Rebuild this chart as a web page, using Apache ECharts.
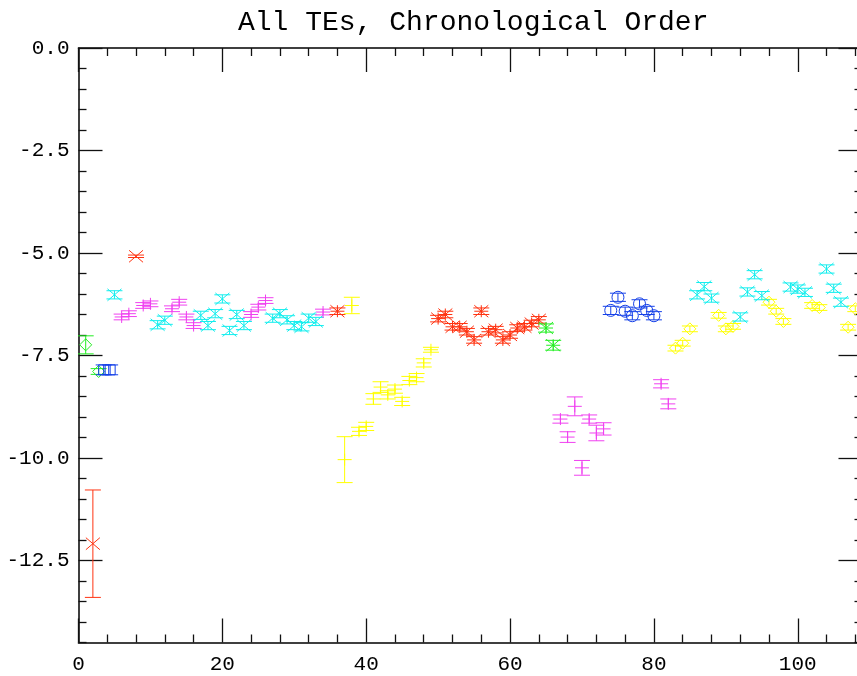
<!DOCTYPE html>
<html>
<head>
<meta charset="utf-8">
<title>All TEs, Chronological Order</title>
<script src="https://cdn.jsdelivr.net/npm/echarts@6/dist/echarts.min.js"></script>
<style>
  html, body { margin: 0; padding: 0; background: #fff; }
  #chart { width: 857px; height: 676px; }
</style>
</head>
<body>
<div id="chart"></div>
<script>
// axis ranges and tick labels
const xRange = [0, 109]
const yRange = [-14.5, 0]
const xTickLabels = [0, 20, 40, 60, 80, 100]
const yTickLabels = [0, -2.5, -5, -7.5, -10, -12.5]

// points: [x, y, error]
const greenDiamond = [[1, -7.24, 0.22], [2.8, -7.89, 0.07]]
const redCross = [[2, -12.09, 1.31], [8, -5.08, 0.03]]
const blueSquare = [[3.5, -7.85, 0.12], [4.4, -7.85, 0.12]]
const cyanCross1 = [
  [5, -6.02, 0.1], [11, -6.75, 0.1], [12, -6.64, 0.1], [17, -6.52, 0.1], [18, -6.77, 0.1],
  [19, -6.48, 0.1], [20, -6.12, 0.1], [21, -6.89, 0.1], [22, -6.5, 0.1], [23, -6.77, 0.1],
  [27, -6.59, 0.1], [28, -6.48, 0.1], [29, -6.63, 0.1], [30, -6.77, 0.1], [31, -6.8, 0.1],
  [32, -6.59, 0.1], [33, -6.67, 0.1]
]
const magentaPlus1 = [
  [6, -6.56, 0.07], [7, -6.48, 0.07], [9, -6.28, 0.07], [10, -6.24, 0.07], [13, -6.36, 0.07],
  [14, -6.2, 0.07], [15, -6.56, 0.07], [16, -6.77, 0.07], [24, -6.5, 0.07], [25, -6.32, 0.07],
  [26, -6.16, 0.07], [34, -6.44, 0.07]
]
const redStar = [
  [36, -6.42, 0.08], [50, -6.6, 0.08], [51, -6.5, 0.08], [52, -6.8, 0.08], [53, -6.8, 0.08],
  [54, -6.92, 0.08], [55, -7.12, 0.08], [56, -6.42, 0.08], [57, -6.92, 0.08], [58, -6.87, 0.08],
  [59, -7.12, 0.08], [60, -7.0, 0.08], [61, -6.83, 0.08], [62, -6.8, 0.08], [63, -6.72, 0.08],
  [64, -6.63, 0.08]
]
const yellowPlus = [
  [37, -10.04, 0.56], [38, -6.28, 0.2], [39, -9.35, 0.1], [40, -9.23, 0.1], [41, -8.56, 0.13],
  [42, -8.27, 0.13], [43, -8.46, 0.1], [44, -8.32, 0.1], [45, -8.62, 0.1], [46, -8.11, 0.1],
  [47, -8.04, 0.1], [48, -7.68, 0.1], [49, -7.36, 0.06]
]
const greenStar = [[65, -6.83, 0.1], [66, -7.25, 0.12]]
const magentaPlus2 = [
  [67, -9.05, 0.1], [68, -9.49, 0.13], [69, -8.74, 0.23], [70, -10.24, 0.18], [71, -9.05, 0.1],
  [72, -9.39, 0.19], [73, -9.29, 0.15], [81, -8.19, 0.1], [82, -8.68, 0.12]
]
const blueCircle = [
  [74, -6.4, 0.1], [75, -6.08, 0.1], [76, -6.42, 0.1], [77, -6.53, 0.1], [78, -6.24, 0.1],
  [79, -6.4, 0.1], [80, -6.53, 0.1]
]
const yellowDiamond = [
  [83, -7.32, 0.07], [84, -7.2, 0.07], [85, -6.85, 0.07], [89, -6.52, 0.07], [90, -6.85, 0.07],
  [91, -6.79, 0.07], [96, -6.2, 0.07], [97, -6.42, 0.07], [98, -6.67, 0.07], [102, -6.28, 0.07],
  [103, -6.33, 0.07], [107, -6.81, 0.07], [108, -6.36, 0.07]
]
const cyanCross2 = [
  [86, -6.02, 0.1], [87, -5.82, 0.1], [88, -6.1, 0.1], [92, -6.56, 0.1], [93, -5.95, 0.1],
  [94, -5.53, 0.1], [95, -6.04, 0.1], [99, -5.83, 0.1], [100, -5.88, 0.1], [101, -5.96, 0.1],
  [104, -5.39, 0.1], [105, -5.86, 0.1], [106, -6.2, 0.1]
]

const GREEN = '#22ee22'
const RED = '#ff3311'
const BLUE = '#1540e8'
const CYAN = '#11eeee'
const MAGENTA = '#f040f0'
const YELLOW = '#ffff00'

const FONT = 'Liberation Mono'

// minor tick positions (skip the majors)
const stepTicks = (min, max, step, skip) => {
  const out = []
  for (let v = min; v <= max + 1e-9; v += step) {
    const r = Math.round(v * 100) / 100
    if (Math.abs(r % skip) > 1e-6) out.push(r)
  }
  return out
}

// symbol outline, plotted at the point
const symbolShapes = (kind, cx, cy, color) => {
  const st = { stroke: color, fill: null, lineWidth: 1 }
  const line = (x1, y1, x2, y2) => ({ type: 'line', shape: { x1, y1, x2, y2 }, style: st })
  const list = []
  if (kind === 'x' || kind === 'star') {
    list.push(line(cx - 7, cy - 6, cx + 7, cy + 6), line(cx - 7, cy + 6, cx + 7, cy - 6))
  }
  if (kind === 'plus' || kind === 'star') {
    list.push(line(cx - 7, cy, cx + 7, cy), line(cx, cy - 6, cx, cy + 6))
  }
  if (kind === 'diamond') {
    list.push({ type: 'polygon', shape: { points: [[cx, cy - 6], [cx + 6, cy], [cx, cy + 6], [cx - 6, cy]] }, style: st })
  }
  if (kind === 'square') {
    list.push({ type: 'rect', shape: { x: cx - 5, y: cy - 5, width: 10, height: 10 }, style: st })
  }
  if (kind === 'circle') {
    list.push({ type: 'circle', shape: { cx, cy, r: 6 }, style: st })
  }
  return list
}

// error bar + symbol for every point
const makeSeries = (data, kind, color) => ({
  type: 'custom',
  clip: true,
  xAxisIndex: 0,
  yAxisIndex: 0,
  data: data,
  encode: { x: 0, y: 1 },
  renderItem: (params, api) => {
    const x = api.value(0)
    const y = api.value(1)
    const e = api.value(2)
    const p = api.coord([x, y])
    const top = api.coord([x, y + e])
    const bot = api.coord([x, y - e])
    const st = { stroke: color, lineWidth: 1 }
    const children = [
      { type: 'line', shape: { x1: p[0], y1: top[1], x2: p[0], y2: bot[1] }, style: st },
      { type: 'line', shape: { x1: p[0] - 8, y1: top[1], x2: p[0] + 8, y2: top[1] }, style: st },
      { type: 'line', shape: { x1: p[0] - 8, y1: bot[1], x2: p[0] + 8, y2: bot[1] }, style: st }
    ].concat(symbolShapes(kind, p[0], p[1], color))
    return { type: 'group', children }
  }
})

const axisLine = { onZero: false, lineStyle: { color: '#333', width: 1.5 } }

const xAxisDef = (gridIndex, position, values, len, showLabel) => ({
  type: 'value',
  gridIndex,
  position,
  min: xRange[0],
  max: xRange[1],
  axisLine: axisLine,
  splitLine: { show: false },
  axisTick: { show: true, inside: true, length: len, customValues: values, lineStyle: { color: '#111', width: 1.3 } },
  axisLabel: showLabel
    ? { customValues: values, margin: 11, fontFamily: FONT, fontSize: 21, color: '#000' }
    : { show: false }
})

const yAxisDef = (gridIndex, position, values, len, showLabel) => ({
  type: 'value',
  gridIndex,
  position,
  min: yRange[0],
  max: yRange[1],
  axisLine: axisLine,
  splitLine: { show: false },
  axisTick: { show: true, inside: true, length: len, customValues: values, lineStyle: { color: '#111', width: 1.3 } },
  axisLabel: showLabel
    ? { customValues: values, margin: 9, fontFamily: FONT, fontSize: 21, color: '#000',
        formatter: v => v.toFixed(1) }
    : { show: false }
})

const xMinor = stepTicks(xRange[0], xRange[1], 4, 20)
const yMinor = stepTicks(yRange[0], yRange[1], 0.5, 2.5)

const gridBox = { left: 78.5, top: 48, width: 784, height: 594.5, outerBoundsMode: 'none' }

const chart = echarts.init(document.getElementById('chart'))
chart.setOption({
  backgroundColor: '#fff',
  animation: false,
  title: {
    text: 'All TEs, Chronological Order',
    left: 233,
    top: 4,
    textStyle: { fontFamily: FONT, fontSize: 28, fontWeight: 'normal', color: '#000' }
  },
  // grid 0: data + major ticks, grid 1: same box, minor ticks only
  grid: [Object.assign({}, gridBox), Object.assign({}, gridBox)],
  xAxis: [
    xAxisDef(0, 'bottom', xTickLabels, 24, true),
    xAxisDef(0, 'top', xTickLabels, 24, false),
    xAxisDef(1, 'bottom', xMinor, 8, false),
    xAxisDef(1, 'top', xMinor, 8, false)
  ],
  yAxis: [
    yAxisDef(0, 'left', yTickLabels, 24, true),
    yAxisDef(0, 'right', yTickLabels, 24, false),
    yAxisDef(1, 'left', yMinor, 8, false),
    yAxisDef(1, 'right', yMinor, 8, false)
  ],
  series: [
    makeSeries(greenDiamond, 'diamond', GREEN),
    makeSeries(redCross, 'x', RED),
    makeSeries(blueSquare, 'square', BLUE),
    makeSeries(cyanCross1, 'x', CYAN),
    makeSeries(magentaPlus1, 'plus', MAGENTA),
    makeSeries(redStar, 'star', RED),
    makeSeries(yellowPlus, 'plus', YELLOW),
    makeSeries(greenStar, 'star', GREEN),
    makeSeries(magentaPlus2, 'plus', MAGENTA),
    makeSeries(blueCircle, 'circle', BLUE),
    makeSeries(yellowDiamond, 'diamond', YELLOW),
    makeSeries(cyanCross2, 'x', CYAN)
  ]
})

window.addEventListener('resize', () => chart.resize())
</script>
</body>
</html>
